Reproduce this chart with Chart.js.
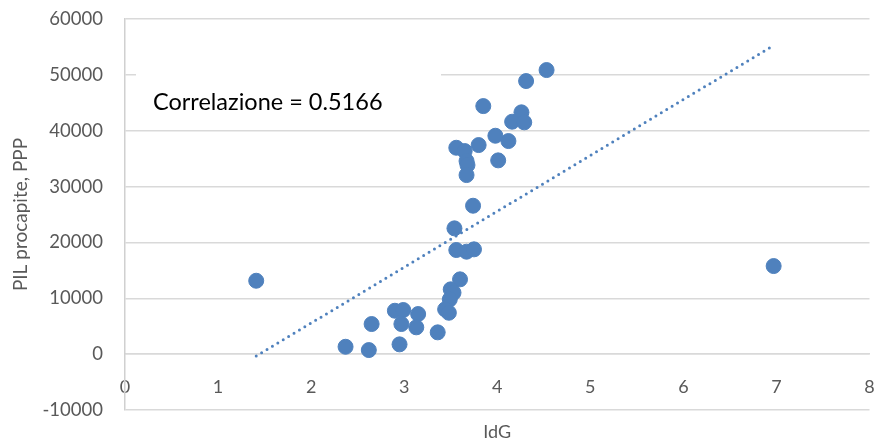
<!DOCTYPE html>
<html lang="it">
<head>
    <meta charset="UTF-8">
    <title>IdG vs PIL procapite</title>
    <style>
        body { margin: 0; background: #fff; }
        #wrap { width: 878px; height: 443px; }
    </style>
</head>
<body>
    <div id="wrap"><canvas id="chartJSContainer"></canvas></div>
    <script src="https://cdn.jsdelivr.net/npm/chart.js@4.4.0/dist/chart.umd.min.js"></script>
<script>
// IdG (x) and PIL procapite PPP (y)
var idg = [4.53, 4.31, 3.85, 4.26, 4.16, 4.29, 3.98, 4.12, 3.80, 3.56,
           3.65, 3.67, 3.68, 3.67, 4.01, 3.60, 3.50, 3.53, 3.49, 3.44,
           3.48, 3.36, 2.90, 2.99, 3.15, 2.97, 3.13, 2.65, 2.37, 2.62,
           2.95, 3.74, 3.54, 3.56, 3.67, 3.75, 1.41, 6.97];
var pil = [50860, 48890, 44410, 43290, 41610, 41500, 39100, 38150, 37430, 36950,
           36360, 34570, 33850, 32060, 34690, 13390, 11600, 11000, 9810, 8020,
           7410, 3900, 7770, 7900, 7180, 5390, 4800, 5390, 1320, 730,
           1750, 26570, 22520, 18640, 18340, 18760, 13140, 15770];
// linear trend line end points
var trendX = [1.41, 6.97];
var trendY = [-340, 55280];

var corrLabel = 'Correlazione = 0.5166';
var blue = '#4F81BD';
var grey = '#595959';
var none = 'rgba(0,0,0,0)';

var points = idg.map(function (x, i) { return { x: x, y: pil[i] }; });
var trend = trendX.map(function (x, i) { return { x: x, y: trendY[i] }; });

var corrBox = {
  id: 'corrBox',
  beforeDatasetsDraw: function (chart) {
    var ctx = chart.ctx;
    var a = chart.chartArea;
    ctx.save();
    ctx.fillStyle = '#fff';
    ctx.fillRect(a.left + 11, 62, 305, 64);
    ctx.fillStyle = '#000';
    ctx.font = '23.5px Lato';
    ctx.textBaseline = 'middle';
    ctx.fillText(corrLabel, a.left + 28, 102);
    ctx.restore();
  }
};

var plain = function (v) { return String(v); };

var options = {
  type: 'scatter',
  data: {
    datasets: [{
        label: 'PIL',
        data: points,
        backgroundColor: blue,
        borderColor: blue,
        pointRadius: 7.5,
        pointHoverRadius: 7.5,
        order: 1
      },
      {
        type: 'line',
        label: 'trend',
        data: trend,
        borderColor: blue,
        borderWidth: 3,
        borderCapStyle: 'round',
        borderDash: [0, 6.3],
        pointRadius: 0,
        fill: false,
        order: 2
      }
    ]
  },
  options: {
    responsive: true,
    maintainAspectRatio: false,
    animation: false,
    layout: { padding: { top: 19, right: 7, bottom: 0, left: 0 } },
    plugins: {
      legend: { display: false },
      tooltip: { enabled: false }
    },
    scales: {
      x: {
        type: 'linear',
        position: { y: 0 },
        min: 0,
        max: 8,
        grid: { color: none, tickColor: none, tickLength: 22 },
        border: { color: '#d9d9d9', width: 1.5 },
        ticks: { stepSize: 1, padding: 0, color: grey, callback: plain,
                 font: { family: 'Lato', size: 18 } }
      },
      x2: {
        type: 'linear',
        position: 'bottom',
        min: 0,
        max: 8,
        grid: { display: false, drawTicks: false },
        border: { display: false },
        ticks: { display: false },
        title: { display: true, text: 'IdG', color: grey, padding: { top: 0, bottom: 0 },
                 font: { family: 'Lato', size: 18 } },
        afterFit: function (scale) { scale.height = 33; }
      },
      y: {
        min: -10000,
        max: 60000,
        grid: { color: '#d9d9d9', lineWidth: 1.5, tickColor: none, tickLength: 22 },
        border: { color: '#d0d0d0', width: 1.5 },
        ticks: { stepSize: 10000, padding: 0, color: grey, callback: plain,
                 font: { family: 'Lato', size: 18.5 } },
        title: { display: true, text: 'PIL procapite, PPP', color: grey, padding: { top: 9, bottom: 0 },
                 font: { family: 'Lato', size: 19 } },
        afterFit: function (scale) { scale.width = 125; }
      }
    }
  },
  plugins: [corrBox]
};

var ctx = document.getElementById('chartJSContainer').getContext('2d');
new Chart(ctx, options);
</script>
</body>
</html>
